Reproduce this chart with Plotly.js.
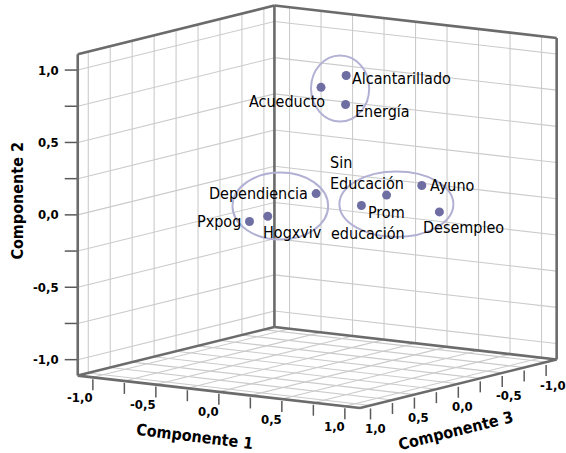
<!DOCTYPE html>
<html>
<head>
<meta charset="utf-8">
<script src="https://cdn.plot.ly/plotly-3.0.1.min.js"></script>
<style>html,body{margin:0;padding:0;background:#fff;}#chart{width:566px;height:453px;}</style>
</head>
<body>
<div id="chart"></div>
<script>
// ---- Data: component loadings ----
const variables = ["Alcantarillado","Acueducto","Energía","Dependiencia","Pxpog","Hogxviv","Sin Educación","Prom educación","Ayuno","Desempleo"];
const labels    = ["Alcantarillado","Acueducto","Energía","Dependiencia","Pxpog","Hogxviv","Sin<br>Educación","Prom<br>educación","Ayuno","Desempleo"];
const comp1 = [0.23, 0.10, 0.26, 0.34, 0.02, 0.13, 0.69, 0.56, 0.83, 0.90];
const comp2 = [0.93, 0.85, 0.74, 0.20, 0.02, 0.06, 0.18, 0.11, 0.23, 0.04];
const comp3 = [0.00, 0.10, 0.05, 0.50, 0.80, 0.75, 0.20, 0.30, 0.00, -0.10];
const groups = [[0, 1, 2], [3, 4, 5], [6, 7, 8, 9]];
const tickVals = [-1, -0.75, -0.5, -0.25, 0, 0.25, 0.5, 0.75, 1];
const tickText = ["-1,0", "", "-0,5", "", "0,0", "", "0,5", "", "1,0"];
const axisTitles = ["Componente 1", "Componente 2", "Componente 3"];

// ---- Oblique 3D view (orthographic) mapped onto a pixel-sized 2D frame ----
const W = 566, H = 453;
const view = {ox: 317.2, oy: 206.8, e1: [126, 14.5], e2: [0, -144.8], e3: [-87.8, 21.7]};
const B1 = 1.12, B2 = 1.11, B3 = 1.12;   // box half-extent per component
function P(c1, c2, c3) {
  return [view.ox + c1 * view.e1[0] + c2 * view.e2[0] + c3 * view.e3[0],
          view.oy + c1 * view.e1[1] + c2 * view.e2[1] + c3 * view.e3[1]];
}
function seg(arr, a, b) {
  const p = P(...a), q = P(...b);
  arr.x.push(p[0], q[0], null); arr.y.push(p[1], q[1], null);
}

const FONT = "'DejaVu Sans Condensed', 'DejaVu Sans', sans-serif";
const traces = [];

// grid lines on the three back planes: C1=-B1 wall, C3=-B3 wall, C2=-B2 floor
const grid = {x: [], y: []};
tickVals.forEach(t => {
  seg(grid, [-B1, -B2, t], [-B1, B2, t]);
  seg(grid, [-B1, t, -B3], [-B1, t, B3]);
  seg(grid, [t, -B2, -B3], [t, B2, -B3]);
  seg(grid, [-B1, t, -B3], [B1, t, -B3]);
  seg(grid, [t, -B2, -B3], [t, -B2, B3]);
  seg(grid, [-B1, -B2, t], [B1, -B2, t]);
});
traces.push({type: 'scatter', mode: 'lines', x: grid.x, y: grid.y,
  line: {color: '#cbcbcb', width: 1.1}, hoverinfo: 'skip'});

// ticks and tick labels
const ticks = {x: [], y: []};
const ann = [];
const tickFont = {family: FONT, size: 13, color: '#000', weight: 'bold'};
tickVals.forEach((t, i) => {
  let p = P(t, -B2, B3);
  ticks.x.push(p[0], p[0], null); ticks.y.push(p[1] + 2, p[1] + 13, null);
  if (tickText[i]) ann.push({x: p[0], y: p[1], text: tickText[i], xanchor: 'right', yanchor: 'middle', xshift: 2, yshift: -20, font: tickFont});
  p = P(B1, -B2, t);
  ticks.x.push(p[0], p[0], null); ticks.y.push(p[1] + 3, p[1] + 14, null);
  if (tickText[i]) ann.push({x: p[0], y: p[1], text: tickText[i], xanchor: 'left', yanchor: 'middle', xshift: -8, yshift: -23, font: tickFont});
  p = P(-B1, t, B3);
  ticks.x.push(p[0] - 13, p[0], null); ticks.y.push(p[1], p[1], null);
  if (tickText[i]) ann.push({x: p[0], y: p[1], text: tickText[i], xanchor: 'right', yanchor: 'middle', xshift: -17, font: tickFont});
});
traces.push({type: 'scatter', mode: 'lines', x: ticks.x, y: ticks.y,
  line: {color: '#5a5a5a', width: 1.5}, hoverinfo: 'skip'});

// box edges
const edges = {x: [], y: []};
seg(edges, [-B1, B2, B3], [-B1, B2, -B3]);
seg(edges, [-B1, B2, -B3], [B1, B2, -B3]);
seg(edges, [-B1, -B2, B3], [-B1, B2, B3]);
seg(edges, [-B1, -B2, -B3], [-B1, B2, -B3]);
seg(edges, [B1, -B2, -B3], [B1, B2, -B3]);
seg(edges, [-B1, -B2, B3], [-B1, -B2, -B3]);
seg(edges, [-B1, -B2, -B3], [B1, -B2, -B3]);
seg(edges, [-B1, -B2, B3], [B1, -B2, B3]);
seg(edges, [B1, -B2, B3], [B1, -B2, -B3]);
traces.push({type: 'scatter', mode: 'lines', x: edges.x, y: edges.y,
  line: {color: '#6b6b6b', width: 2.6}, hoverinfo: 'skip'});

// points
const pts = comp1.map((c, i) => P(comp1[i], comp2[i], comp3[i]));
traces.push({type: 'scatter', mode: 'markers', x: pts.map(p => p[0]), y: pts.map(p => p[1]),
  text: variables, hoverinfo: 'text',
  marker: {size: 9, color: '#6f6ea3', line: {width: 0}}});

// point labels (placement style per label)
const labelStyle = [
  {xanchor: 'left', xshift: 4, yshift: -3},
  {xanchor: 'right', xshift: 6, yshift: -14},
  {xanchor: 'left', xshift: 7, yshift: -7},
  {xanchor: 'right', xshift: -6, yshift: 0},
  {xanchor: 'right', xshift: -6, yshift: 0},
  {xanchor: 'left', xshift: -7, yshift: -16},
  {xanchor: 'left', xshift: -59, yshift: 22, align: 'left'},
  {xanchor: 'right', xshift: 46, yshift: -17, align: 'right'},
  {xanchor: 'left', xshift: 6, yshift: 0},
  {xanchor: 'center', xshift: 24, yshift: -16}
];
labels.forEach((t, i) => {
  ann.push(Object.assign({x: pts[i][0], y: pts[i][1], text: t, yanchor: 'middle',
    font: {family: FONT, size: 16, color: '#000'}}, labelStyle[i]));
});

// axis titles
const titleFont = {family: FONT, size: 16, color: '#000', weight: 'bold'};
let tp = P(0, -B2, B3);
ann.push({x: tp[0], y: tp[1], text: axisTitles[0], textangle: 7, xshift: -24, yshift: -45, font: titleFont});
tp = P(B1, -B2, 0);
ann.push({x: tp[0], y: tp[1], text: axisTitles[2], textangle: -14, xshift: -2, yshift: -47, font: titleFont});
tp = P(-B1, 0, B3);
ann.push({x: tp[0], y: tp[1], text: axisTitles[1], textangle: -90, xshift: -60, yshift: 14, font: titleFont});
ann.forEach(a => { a.showarrow = false; a.xref = 'x'; a.yref = 'y'; });

// group ellipses around member points (padding: left, right, top, bottom)
const groupPad = [[10, 23, 20, 17], [17, 12, 21, 18], [22, 14, 14, 25]];
const shapes = groups.map((g, k) => {
  const xs = g.map(i => pts[i][0]), ys = g.map(i => pts[i][1]);
  const pd = groupPad[k];
  return {type: 'circle', xref: 'x', yref: 'y', layer: 'above',
    x0: Math.min(...xs) - pd[0], x1: Math.max(...xs) + pd[1],
    y0: Math.min(...ys) - pd[2], y1: Math.max(...ys) + pd[3],
    line: {color: '#b2b1d4', width: 2}};
});

const layout = {
  width: W, height: H,
  margin: {l: 0, r: 0, t: 0, b: 0},
  paper_bgcolor: '#fff', plot_bgcolor: '#fff',
  showlegend: false,
  xaxis: {range: [0, W], visible: false, fixedrange: true},
  yaxis: {range: [H, 0], visible: false, fixedrange: true},
  annotations: ann,
  shapes: shapes
};
Plotly.newPlot('chart', traces, layout, {displayModeBar: false, staticPlot: true});
</script>
</body>
</html>
